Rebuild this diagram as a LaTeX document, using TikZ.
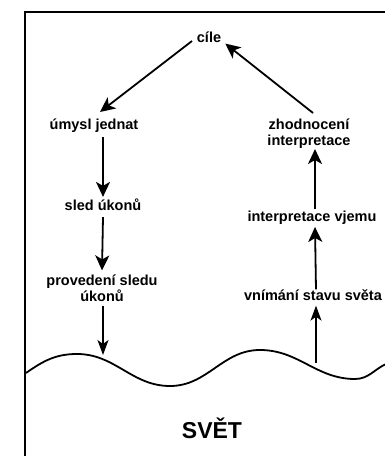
\documentclass[tikz,border=0pt]{standalone}
\usepackage{fontspec}
\setmainfont{Liberation Sans}
\usetikzlibrary{arrows.meta}
\begin{document}
\begin{tikzpicture}[x=1pt,y=1pt,
  lbl/.style={font=\fontsize{14.5}{16}\selectfont\bfseries, align=center, inner sep=2pt},
  arr/.style={line width=1.8pt, -{Stealth[length=15pt,width=14pt,inset=4pt]}},
  arrthin/.style={line width=1.3pt, -{Stealth[length=15pt,width=11pt,inset=4pt]}},
  frame/.style={line width=1.8pt}]
\useasboundingbox (0,0) rectangle (385,456);
\draw[frame] (25,0) -- (25,444) -- (385,444);
\node[lbl] (cile) at (209,419) {cíle};
\node[lbl] (umysl) at (94,330) {úmysl jednat};
\node[lbl] (zhod) at (309,322) {zhodnocení\\interpretace};
\node[lbl] (sled) at (103,251) {sled úkonů};
\node[lbl] (proved) at (102,168) {provedení sledu\\úkonů};
\node[lbl] (vjemu) at (312,238) {interpretace vjemu};
\node[lbl] (vnimani) at (313,161) {vnímání stavu světa};
\node[font=\fontsize{23}{26}\selectfont\bfseries] (svet) at (212,28) {SVĚT};
\draw[line width=1.8pt] (26,83) to[out=35,in=180] (77,102) to[out=0,in=180] (170,70)
  to[out=0,in=180] (260,106) to[out=0,in=180] (355,77) to[out=0,in=205] (386,92);
\coordinate (w1) at (103,101);
\coordinate (w2) at (316,93);
\draw[arr] ([xshift=-17pt,yshift=-4pt]cile.center) -- (100,344) coordinate (a1);
\draw[arr] ([xshift=4pt,yshift=4pt]zhod.north) -- ([xshift=2pt,yshift=1pt]cile.south east);
\draw[arr] (sled.north |- umysl.south) ++(0,-2) -- (sled.north);
\draw[arr] (sled.south) ++(0,-4) -- ([yshift=2pt]proved.north);
\draw[arrthin] ([xshift=1pt,yshift=-2pt]proved.south) -- (w1);
\draw[arrthin] (w2) -- ([yshift=-3pt]w2 |- vnimani.south);
\draw[arr] ([xshift=3pt,yshift=-2pt]vnimani.north) -- ([xshift=3pt]vjemu.south);
\draw[arr] ([xshift=3pt]vjemu.north) -- ([xshift=6pt,yshift=2pt]zhod.south);
\end{tikzpicture}
\end{document}
